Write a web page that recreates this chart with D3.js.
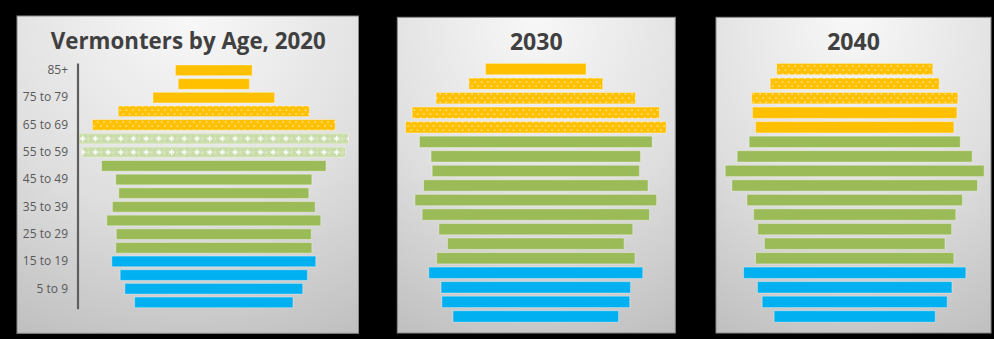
<!DOCTYPE html>
<html><head><meta charset="utf-8">
<script src="https://cdn.jsdelivr.net/npm/d3@7"></script>
<style>html,body{margin:0;padding:0;background:#000;}svg{display:block;}</style>
</head><body>
<svg id="chart" width="994" height="339"></svg>
<script>
// ---- data (Vermont population by 5-year age group) ----
const categories = ["0 to 4","5 to 9","10 to 14","15 to 19","20 to 24","25 to 29","30 to 34","35 to 39",
  "40 to 44","45 to 49","50 to 54","55 to 59","60 to 64","65 to 69","70 to 74","75 to 79","80 to 84","85+"];
const tickLabels = ["5 to 9","15 to 19","25 to 29","35 to 39","45 to 49","55 to 59","65 to 69","75 to 79","85+"];
const titles = ["Vermonters by Age, 2020","2030","2040"];
const pop2020 = [28500,32000,33700,36700,35300,35100,38500,36500,34200,35300,40400,47400,48500,43700,34400,21900,12800,13800];
const pop2030 = [29800,33800,34100,38500,35700,31800,34900,40900,43500,40400,37300,37700,41900,46900,44500,35900,24100,18100];
const pop2040 = [29000,33300,35000,40000,35700,32500,34900,36400,38800,44200,46600,42300,38000,35700,36800,37100,30400,28100];
const youthGroups = ["0 to 4","5 to 9","10 to 14","15 to 19"];
const seniorGroups = ["65 to 69","70 to 74","75 to 79","80 to 84","85+"];
const boomers2020 = ["55 to 59","60 to 64","65 to 69","70 to 74"];
const boomers2030 = ["65 to 69","70 to 74","75 to 79","80 to 84"];
const boomers2040 = ["75 to 79","80 to 84","85+"];

const COLORS = {youth:"#00B0F0", work:"#9BBB59", senior:"#FFC000"};

const svg = d3.select("#chart");
svg.append("rect").attr("width",994).attr("height",339).attr("fill","#000");
const defs = svg.append("defs");

// background gradient
const bg = defs.append("radialGradient").attr("id","bg")
  .attr("cx","0.5").attr("cy","0").attr("r","1.15").attr("fx","0.5").attr("fy","0");
bg.append("stop").attr("offset","0%").attr("stop-color","#f8f8f8");
bg.append("stop").attr("offset","55%").attr("stop-color","#dedede");
bg.append("stop").attr("offset","100%").attr("stop-color","#bdbdbd");

// yellow dotted pattern
const yp = defs.append("pattern").attr("id","yellowDots").attr("patternUnits","userSpaceOnUse")
  .attr("width",6.4).attr("height",8);
yp.append("rect").attr("width",6.4).attr("height",8).attr("fill",COLORS.senior);
yp.append("rect").attr("x",1).attr("y",1.5).attr("width",1.3).attr("height",1.3).attr("fill","#fff7d8");
yp.append("rect").attr("x",4.2).attr("y",5.5).attr("width",1.3).attr("height",1.3).attr("fill","#fff7d8");

const x = d3.scaleLinear().domain([0,50000]).range([0,277.8]);

const panels = [
  {title:titles[0], data:pop2020, boomers:boomers2020, box:[17,16,358.5,333.3], cx:213.8, yr:[63.5,309.2], titleY:48.5, axis:true, titleLen:275},
  {title:titles[1], data:pop2030, boomers:boomers2030, box:[397.3,17.3,675.3,333], cx:535.8, yr:[61.8,323.7], titleY:50, axis:false, titleLen:52.7},
  {title:titles[2], data:pop2040, boomers:boomers2040, box:[716,17.3,991,333], cx:854.7, yr:[61.8,323.7], titleY:50, axis:false, titleLen:52.7}
];

panels.forEach((p,pi)=>{
  const g = svg.append("g");
  const [x0,y0,x1,y1] = p.box;
  g.append("rect").attr("x",x0).attr("y",y0).attr("width",x1-x0).attr("height",y1-y0)
    .attr("fill","url(#bg)").attr("stroke","#8a8a8a").attr("stroke-width",1);

  const y = d3.scaleBand().domain(categories).range([p.yr[1],p.yr[0]]).paddingInner(0.22).paddingOuter(0.11);

  // green boomer pattern aligned to bands of this panel
  const gid = "greenDots"+pi;
  const step = y.step();
  const gp = defs.append("pattern").attr("id",gid).attr("patternUnits","userSpaceOnUse")
    .attr("x",0).attr("y",y(categories[0]) + y.bandwidth()/2 - step/2).attr("width",12.7).attr("height",step);
  const mid = step/2;
  gp.append("rect").attr("width",12.7).attr("height",step).attr("fill","#CDDFAF");
  [[1.5,mid-3],[4.5,mid-3],[1.5,mid+2],[4.5,mid+2],[9,mid-3.5],[9,mid+2.5],[10.5,mid-1],[2.5,mid]].forEach(([a,b])=>{
    gp.append("rect").attr("x",a).attr("y",b).attr("width",1).attr("height",1).attr("fill","#b2ca86");
  });
  gp.append("rect").attr("x",4.4).attr("y",mid-1.3).attr("width",4).attr("height",2.6).attr("fill","#eef5e2");
  gp.append("rect").attr("x",3.6).attr("y",mid-0.6).attr("width",5.5).attr("height",1.2).attr("fill","#ffffff");
  gp.append("rect").attr("x",5.75).attr("y",mid-2.75).attr("width",1.2).attr("height",5.5).attr("fill","#ffffff");
  gp.append("rect").attr("x",11).attr("y",mid-0.5).attr("width",1.6).attr("height",1).attr("fill","#f4f8ec");

  const fillOf = (c)=>{
    const boom = p.boomers.includes(c);
    if (youthGroups.includes(c)) return COLORS.youth;
    if (seniorGroups.includes(c)) return boom ? "url(#yellowDots)" : COLORS.senior;
    return boom ? `url(#${gid})` : COLORS.work;
  };

  g.selectAll("rect.bar").data(categories.map((c,i)=>({c, v:p.data[i]})))
    .join("rect").attr("class","bar")
    .attr("x", d => p.cx - x(d.v)/2)
    .attr("y", d => y(d.c))
    .attr("width", d => x(d.v))
    .attr("height", y.bandwidth())
    .attr("fill", d => fillOf(d.c))
    .attr("stroke","rgba(255,255,255,0.35)").attr("stroke-width",1);

  g.append("text").attr("x",(x0+x1)/2 + (pi===0?0.5:0)).attr("y",p.titleY)
    .attr("text-anchor","middle")
    .attr("font-family","'Open Sans', 'DejaVu Sans', sans-serif").attr("font-weight","bold")
    .attr("font-size",23).attr("fill","#404040")
    .attr("textLength",p.titleLen).attr("lengthAdjust","spacingAndGlyphs")
    .text(p.title);

  if (p.axis) {
    const ax = g.append("g").attr("transform","translate(78,0)")
      .call(d3.axisLeft(y).tickValues(tickLabels).tickSizeInner(0).tickSizeOuter(0).tickPadding(10));
    ax.select(".domain").attr("stroke","#5f5f5f").attr("stroke-width",2.2)
      .attr("d",`M0,${p.yr[0]}V${p.yr[1]}`);
    ax.selectAll("text").attr("font-family","'Open Sans', 'Liberation Sans', sans-serif")
      .attr("font-size",12).attr("fill","#595959");
  }
});
</script>
</body></html>
